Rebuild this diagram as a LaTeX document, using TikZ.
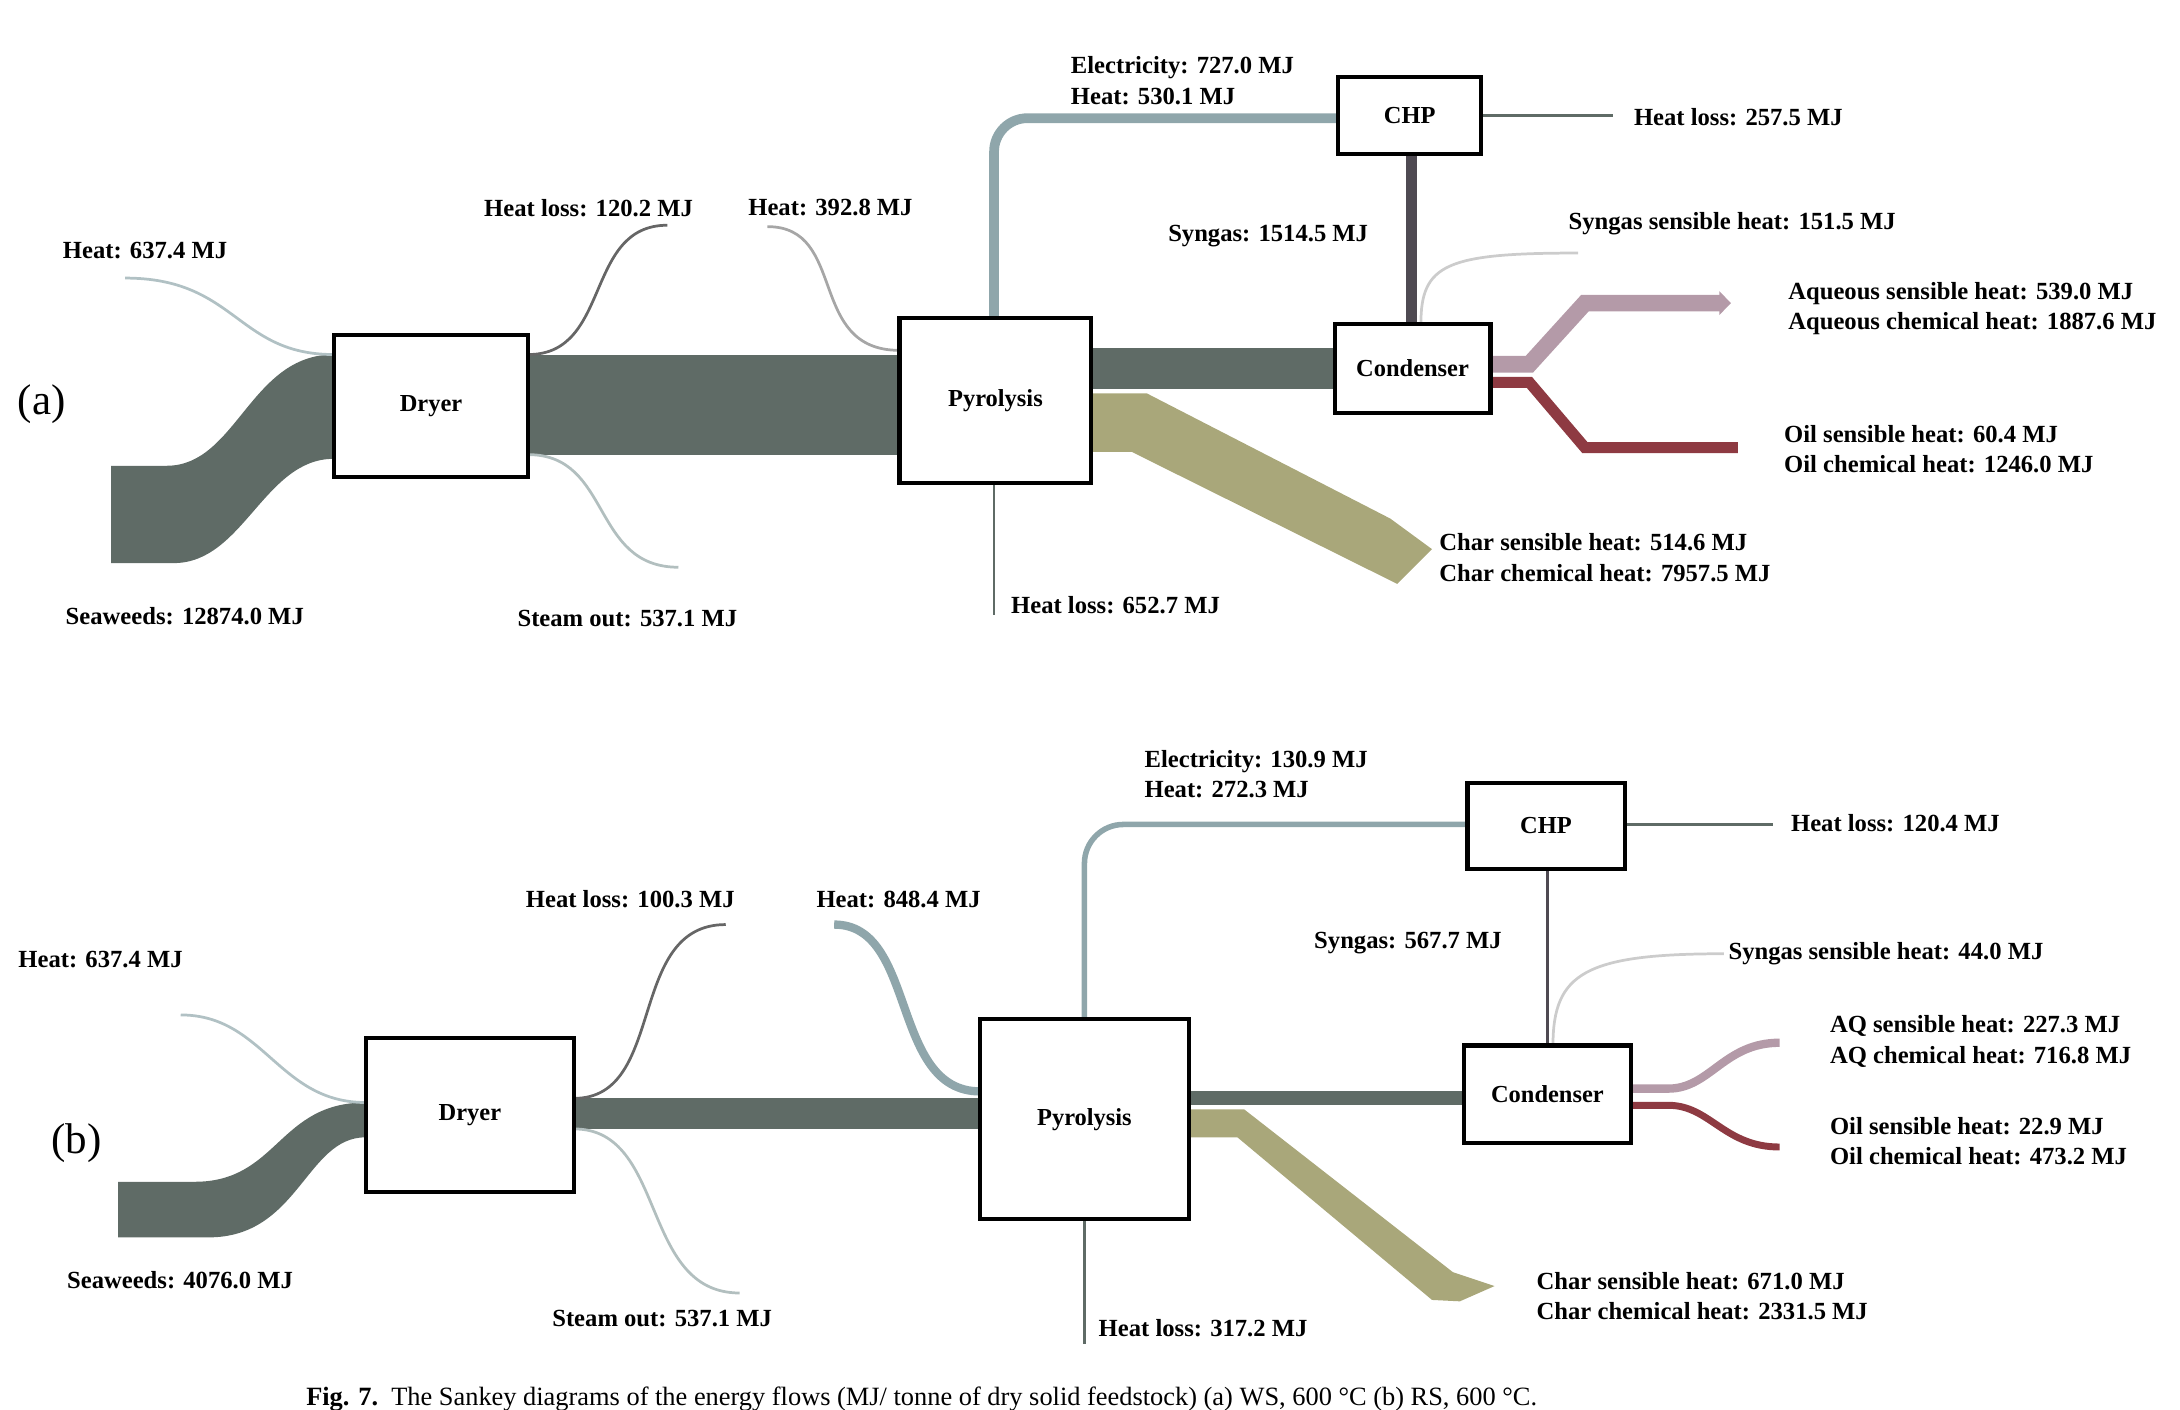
\documentclass[tikz,border=0pt]{standalone}
\usepackage{fontspec}
\setmainfont{Liberation Serif}
\usetikzlibrary{arrows.meta}
\definecolor{band}{HTML}{5F6B66}
\definecolor{olive}{HTML}{A9A77A}
\definecolor{elec}{HTML}{8FA6AB}
\definecolor{syn}{HTML}{4F4A52}
\definecolor{aq}{HTML}{B49AA8}
\definecolor{oil}{HTML}{8E3A42}
\begin{document}
\begin{tikzpicture}[x=0.025cm,y=-0.025cm,
 box/.style={draw=black,fill=white,line width=3*0.709pt,font=\bfseries\fontsize{12.5}{14}\selectfont},
 lbl/.style={font=\bfseries\fontsize{12.6}{15.5}\selectfont,inner sep=0pt,align=left},
 thin/.style={line width=1.4pt},
 w/.style={line width=#1*0.709pt}]
\useasboundingbox (0,0) rectangle (1568,1014);
% ================= (a)
\fill[band] (80,335)--(120,335) .. controls (170,335) and (180,255) .. (240,255)--(240,330) .. controls (190,330) and (175,405) .. (125,405)--(80,405)--cycle;
\fill[band] (380,255) rectangle (647,327);
\fill[band] (785,250) rectangle (960,280);
\fill[olive] (785,283)--(825,283)--(1000,373)--(1030,395)--(1005,420)--(814,325)--(785,325)--cycle;
\draw[thin,color=elec!70] (90,200) .. controls (170,200) and (170,255) .. (240,255);
\draw[thin,color=gray!80!black] (380,255) .. controls (440,255) and (420,162) .. (480,162);
\draw[thin,color=teal!20!gray!50] (380,327) .. controls (440,327) and (425,408) .. (488,408);
\draw[thin,color=gray!70] (552,163) .. controls (610,163) and (580,252) .. (647,252);
\draw[w=7,color=elec,rounded corners=6mm] (715,228)--(715,85)--(963,85);
\draw[thin,color=band] (1066,83)--(1160,83);
\draw[w=8,color=syn] (1015,233)--(1015,110);
\draw[thin,color=gray!40] (1022,233) .. controls (1022,190) and (1040,182) .. (1135,182);
\draw[w=12,color=aq,-{Triangle[length=0pt 0.7,width=0pt 1.4]}] (1072,262)--(1100,262)--(1140,218)--(1245,218);
\draw[w=8,color=oil] (1072,275)--(1100,275)--(1140,322)--(1250,322);
\draw[thin,color=band] (715,347)--(715,442);
\node[box,minimum width=140*0.025cm,minimum height=102*0.025cm] (dryA) at (310,292) {Dryer};
\node[box,minimum width=138*0.025cm,minimum height=119*0.025cm] (pyrA) at (716,288) {Pyrolysis};
\node[box,minimum width=112*0.025cm,minimum height=64*0.025cm] (conA) at (1016,265) {Condenser};
\node[box,minimum width=103*0.025cm,minimum height=55*0.025cm] (chpA) at (1014,83) {CHP};
\node[font=\fontsize{22}{24}\selectfont] at (30,291) {(a)};
\node[lbl,anchor=west] at (45,180) {Heat: 637.4 MJ};
\node[lbl,anchor=west] at (47,443) {Seaweeds: 12874.0 MJ};
\node[lbl,anchor=west] at (348,150) {Heat loss: 120.2 MJ};
\node[lbl,anchor=west] at (372,445) {Steam out: 537.1 MJ};
\node[lbl,anchor=west] at (538,149) {Heat: 392.8 MJ};
\node[lbl,anchor=west] at (770,58) {Electricity: 727.0 MJ\\Heat: 530.1 MJ};
\node[lbl,anchor=west] at (1175,84) {Heat loss: 257.5 MJ};
\node[lbl,anchor=west] at (840,170) {Syngas: 1514.5 MJ};
\node[lbl,anchor=west] at (1128,161) {Syngas sensible heat: 151.5 MJ};
\node[lbl,anchor=west] at (1286,222) {Aqueous sensible heat: 539.0 MJ\\Aqueous chemical heat: 1887.6 MJ};
\node[lbl,anchor=west] at (1283,323) {Oil sensible heat: 60.4 MJ\\Oil chemical heat: 1246.0 MJ};
\node[lbl,anchor=west] at (1035,401) {Char sensible heat: 514.6 MJ\\Char chemical heat: 7957.5 MJ};
\node[lbl,anchor=west] at (727,435) {Heat loss: 652.7 MJ};
% ================= (b)
\fill[band] (85,850)--(140,850) .. controls (200,850) and (200,793) .. (263,793)--(263,818) .. controls (220,818) and (215,890) .. (150,890)--(85,890)--cycle;
\fill[band] (413,790) rectangle (705,812);
\fill[band] (855,785) rectangle (1053,795);
\fill[olive] (855,798)--(895,798)--(1045,915)--(1075,925)--(1050,936)--(1030,935)--(890,818)--(855,818)--cycle;
\draw[thin,color=elec!70] (130,730) .. controls (190,730) and (200,793) .. (263,793);
\draw[thin,color=gray!80!black] (413,790) .. controls (480,790) and (450,665) .. (522,665);
\draw[thin,color=teal!20!gray!50] (413,812) .. controls (480,812) and (460,930) .. (532,930);
\draw[w=6,color=elec] (600,665) .. controls (660,665) and (640,785) .. (705,785);
\draw[w=4,color=elec,rounded corners=7mm] (780,733)--(780,593)--(1055,593);
\draw[thin,color=band] (1168,593)--(1275,593);
\draw[w=2.5,color=syn] (1113,752)--(1113,625);
\draw[thin,color=gray!40] (1117,752) .. controls (1117,700) and (1140,686) .. (1240,686);
\draw[w=6,color=aq] (1173,783)--(1200,783) .. controls (1230,783) and (1240,750) .. (1280,750);
\draw[w=5,color=oil] (1173,795)--(1200,795) .. controls (1230,795) and (1240,825) .. (1280,825);
\draw[thin,color=band] (780,877)--(780,967);
\node[box,minimum width=150*0.025cm,minimum height=111*0.025cm] (dryB) at (338,802) {Dryer};
\node[box,minimum width=150*0.025cm,minimum height=144*0.025cm] (pyrB) at (780,805) {Pyrolysis};
\node[box,minimum width=120*0.025cm,minimum height=70*0.025cm] (conB) at (1113,787) {Condenser};
\node[box,minimum width=113*0.025cm,minimum height=62*0.025cm] (chpB) at (1112,594) {CHP};
\node[font=\fontsize{22}{24}\selectfont] at (55,822) {(b)};
\node[lbl,anchor=west] at (13,690) {Heat: 637.4 MJ};
\node[lbl,anchor=west] at (48,921) {Seaweeds: 4076.0 MJ};
\node[lbl,anchor=west] at (378,647) {Heat loss: 100.3 MJ};
\node[lbl,anchor=west] at (397,948) {Steam out: 537.1 MJ};
\node[lbl,anchor=west] at (587,647) {Heat: 848.4 MJ};
\node[lbl,anchor=west] at (823,557) {Electricity: 130.9 MJ\\Heat: 272.3 MJ};
\node[lbl,anchor=west] at (1288,592) {Heat loss: 120.4 MJ};
\node[lbl,anchor=west] at (945,678) {Syngas: 567.7 MJ};
\node[lbl,anchor=west] at (1243,686) {Syngas sensible heat: 44.0 MJ};
\node[lbl,anchor=west] at (1316,749) {AQ sensible heat: 227.3 MJ\\AQ chemical heat: 716.8 MJ};
\node[lbl,anchor=west] at (1316,821) {Oil sensible heat: 22.9 MJ\\Oil chemical heat: 473.2 MJ};
\node[lbl,anchor=west] at (1105,932) {Char sensible heat: 671.0 MJ\\Char chemical heat: 2331.5 MJ};
\node[lbl,anchor=west] at (790,955) {Heat loss: 317.2 MJ};
\node[font=\fontsize{13.5}{15}\selectfont,anchor=west,inner sep=0pt] at (220,1006) {\textbf{Fig. 7.}\ \ The Sankey diagrams of the energy flows (MJ/ tonne of dry solid feedstock) (a) WS, 600 °C (b) RS, 600 °C.};
\end{tikzpicture}
\end{document}
